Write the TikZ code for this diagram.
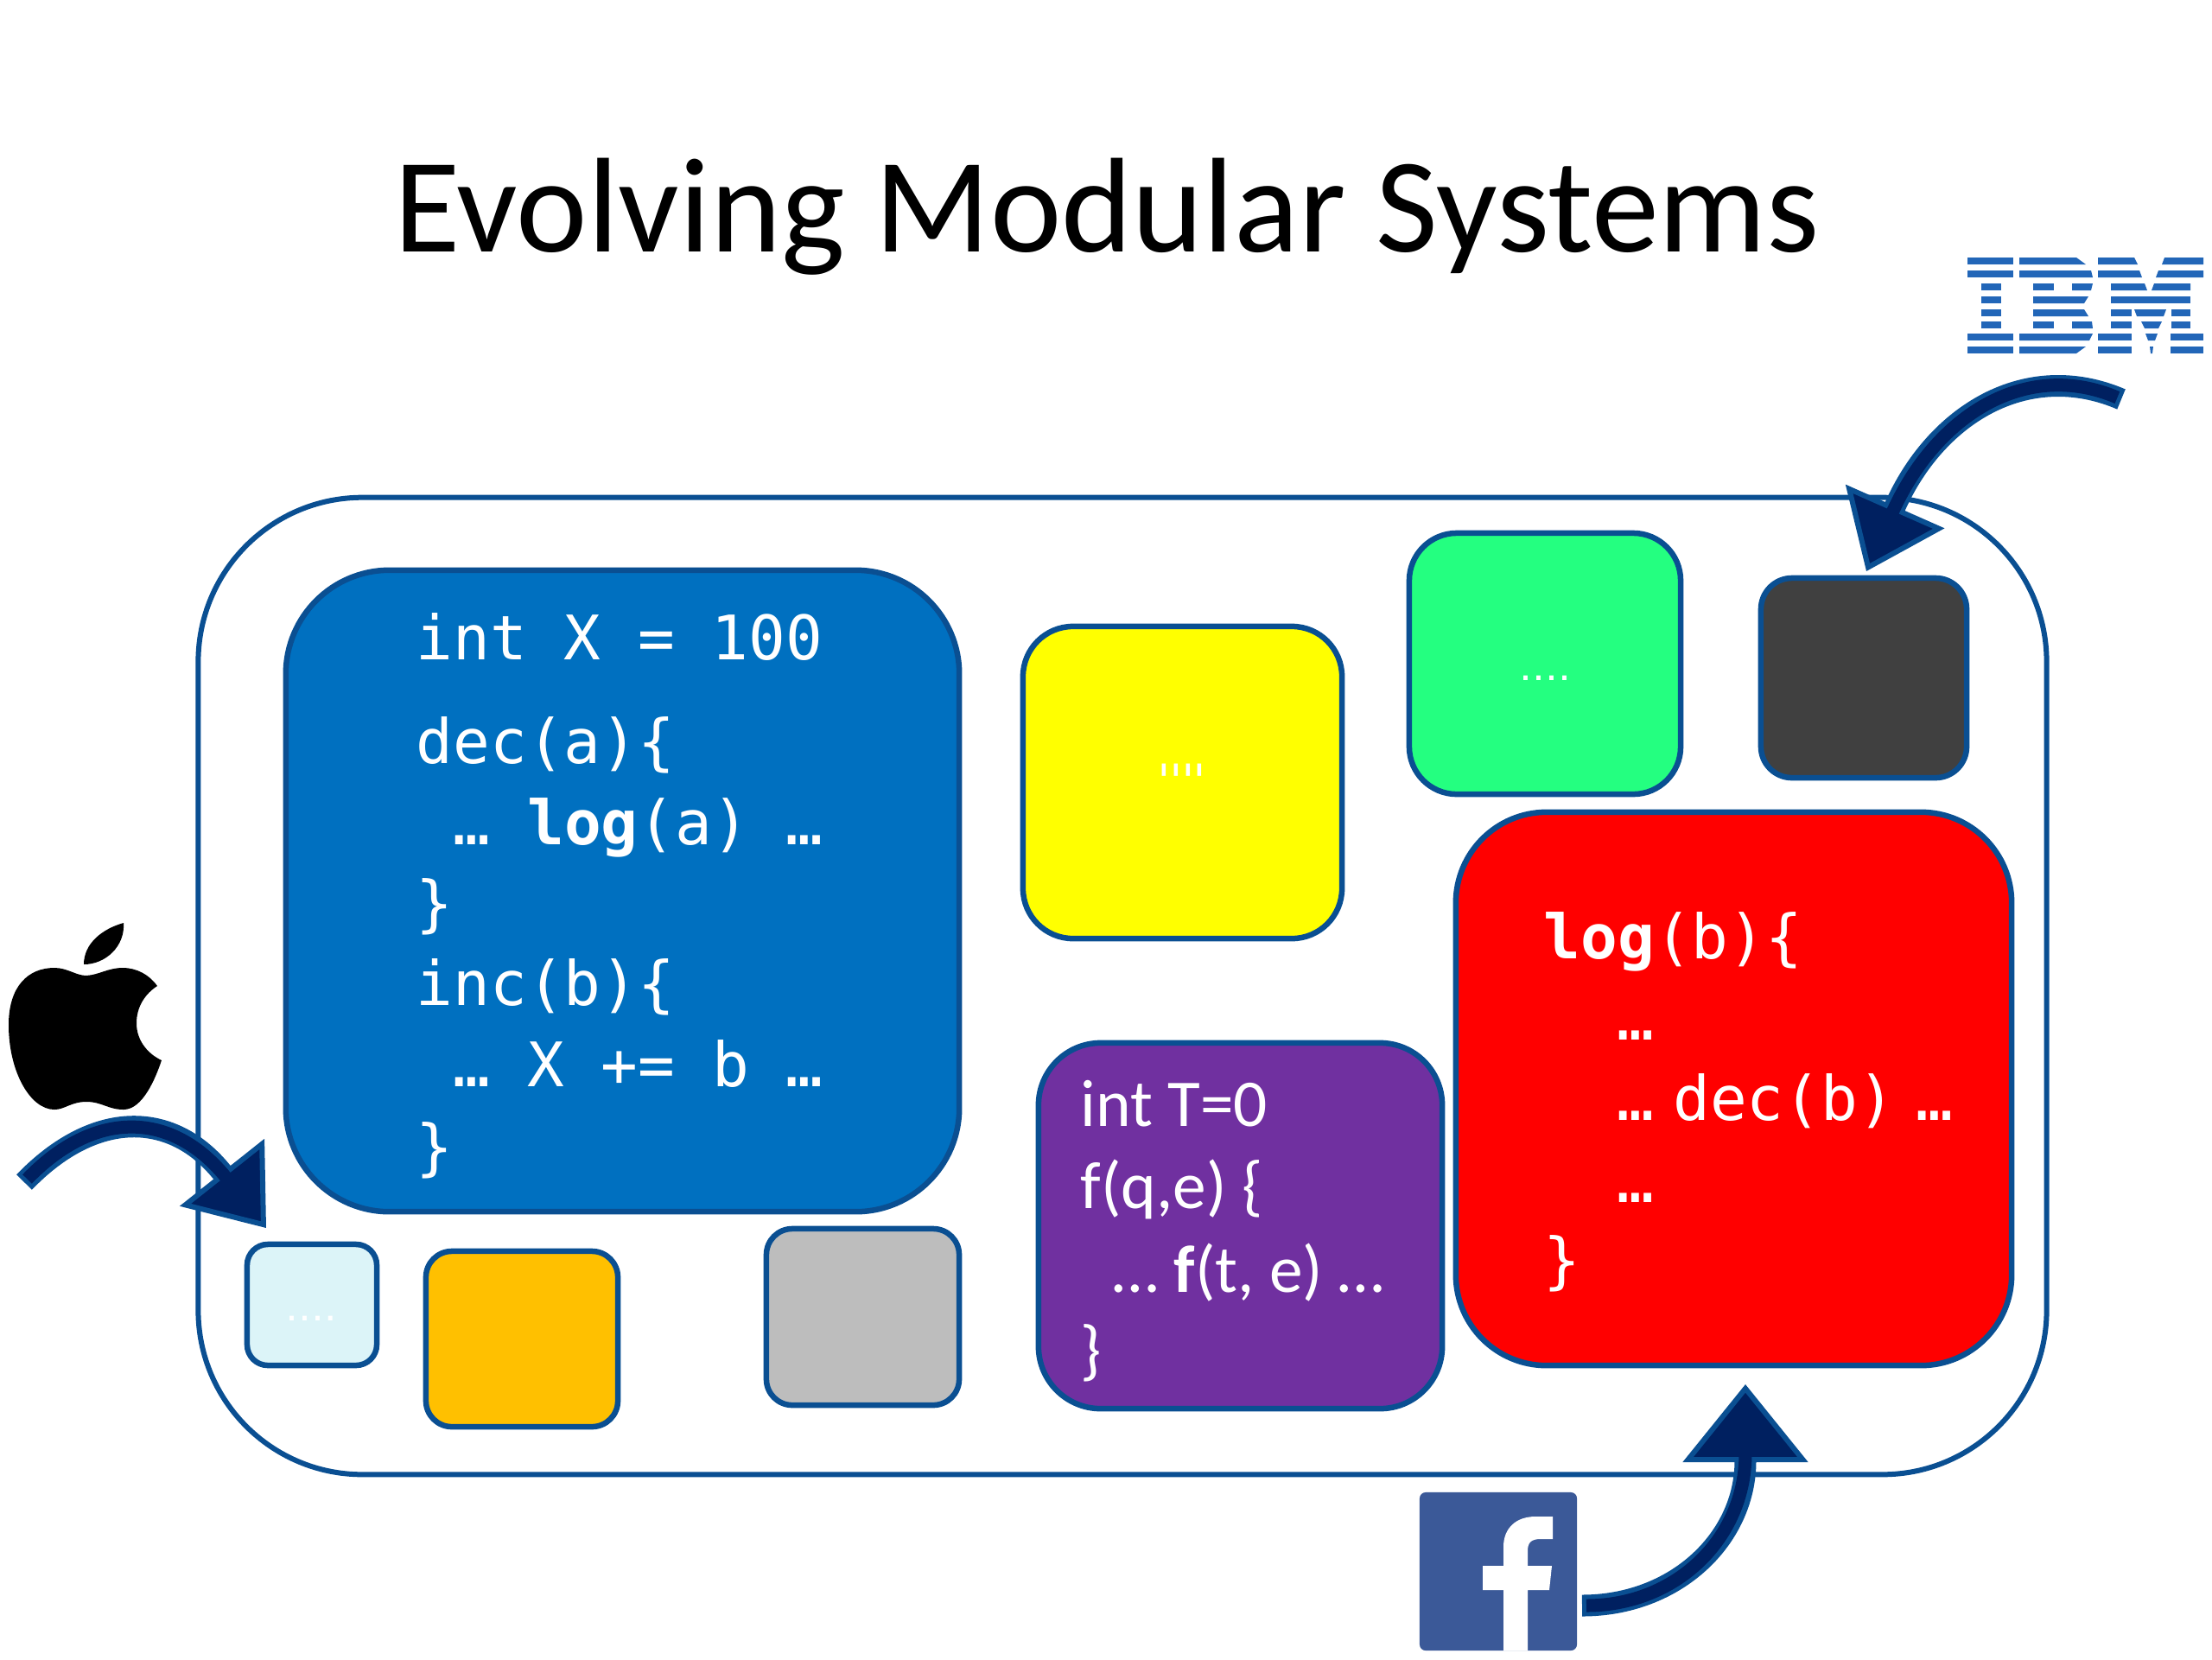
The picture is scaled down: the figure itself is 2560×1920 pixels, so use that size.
\documentclass[tikz,border=0pt]{standalone}
\usepackage{fontspec}
\usetikzlibrary{arrows.meta}
\setmainfont{Carlito}
\newfontfamily\codefont{DejaVu Sans Mono}
\definecolor{edgeblue}{HTML}{0A4F92}
\definecolor{navyfill}{HTML}{002060}
\definecolor{blockblue}{HTML}{0070C0}
\definecolor{blockyellow}{HTML}{FFFF00}
\definecolor{blockgreen}{HTML}{24FF80}
\definecolor{blockdark}{HTML}{404040}
\definecolor{blockred}{HTML}{FF0000}
\definecolor{blockpurple}{HTML}{7030A0}
\definecolor{blocklight}{HTML}{DCF4F8}
\definecolor{blockorange}{HTML}{FFC000}
\definecolor{blockgray}{HTML}{BDBDBD}
\definecolor{ibmblue}{HTML}{2266B8}
\definecolor{fbblue}{HTML}{3B5998}
\newcommand{\tightdots}{.\hspace{-0.03cm}.\hspace{-0.03cm}.\hspace{-0.03cm}.}
\tikzset{
  block/.style={draw=edgeblue,line width=0.065cm,inner sep=0pt},
  code/.style={text=white,anchor=base west,inner sep=0pt,font=\codefont\fontsize{20.2pt}{24pt}\selectfont},
  prose/.style={text=white,anchor=base west,inner sep=0pt,font=\fontsize{22pt}{26pt}\selectfont},
  dots/.style={text=white,inner sep=0pt,font=\codefont\bfseries\fontsize{8.5pt}{10pt}\selectfont},
  shaftouter/.style={draw=edgeblue,line width=0.25cm},
  shaftinner/.style={draw=navyfill,line width=0.15cm,shorten <=0.05cm},
}
\begin{document}
\begin{tikzpicture}[x=0.01cm,y=-0.01cm]
\useasboundingbox (0,0) rectangle (2560,1920);
% title
\node[anchor=base,inner sep=0pt,font=\fontsize{44.4pt}{53pt}\selectfont] (title) at (1281,291) {Evolving Modular Systems};
% outer box
\node[draw=edgeblue,line width=0.06cm,rounded corners=1.9cm,minimum width=21.38cm,minimum height=11.3cm,inner sep=0pt] (system) at (1299,1141) {};
% blocks
\node[block,fill=blockblue,rounded corners=1.2cm,minimum width=7.79cm,minimum height=7.42cm] (blue) at (720.5,1031) {};
\node[block,fill=blockyellow,rounded corners=0.58cm,minimum width=3.69cm,minimum height=3.61cm] (yellow) at (1368.5,905.5) {};
\node[block,fill=blockgreen,rounded corners=0.55cm,minimum width=3.14cm,minimum height=3.02cm] (green) at (1788,768) {};
\node[block,fill=blockdark,rounded corners=0.36cm,minimum width=2.38cm,minimum height=2.31cm] (dark) at (2157,784.5) {};
\node[block,fill=blockred,rounded corners=1.05cm,minimum width=6.43cm,minimum height=6.4cm] (red) at (2006.5,1260) {};
\node[block,fill=blockpurple,rounded corners=0.72cm,minimum width=4.67cm,minimum height=4.23cm] (purple) at (1435.5,1418.5) {};
\node[block,fill=blocklight,rounded corners=0.24cm,minimum width=1.5cm,minimum height=1.4cm] (light) at (361,1510) {};
\node[block,fill=blockorange,rounded corners=0.3cm,minimum width=2.22cm,minimum height=2.03cm] (orange) at (604,1549.5) {};
\node[block,fill=blockgray,rounded corners=0.3cm,minimum width=2.23cm,minimum height=2.04cm] (gray) at (998.5,1524) {};
% blue text
\node[code] (b1) at (481,763) {int X = 100};
\node[code] (b2) at (481,883) {dec(a)\{};
\node[code] (b3) at (524,977) {… \textbf{log}(a) …};
\node[code] (b4) at (481,1070) {\}};
\node[code] (b5) at (481,1163) {inc(b)\{};
\node[code] (b6) at (524,1257) {… X += b …};
\node[code] (b7) at (481,1352) {\}};
% red text
\node[code] (r1) at (1786,1109) {\textbf{log}(b)\{};
\node[code] (r2) at (1871,1203) {…};
\node[code] (r3) at (1871,1296) {…\hspace{0.22cm}dec(b)\hspace{0.24cm}…};
\node[code] (r4) at (1871,1391) {…};
\node[code] (r5) at (1786,1483) {\}};
% purple text
\node[prose] (p1) at (1250,1303) {int T=0};
\node[prose] (p2) at (1250,1398) {f(q,e) \{};
\node[prose] (p3) at (1287,1495) {… \textbf{f}(t, e) …};
\node[prose] (p4) at (1250,1588) {\}};
% small labels
\node[dots] (d1) at (1788,785) {\tightdots};
\node[dots] (d2) at (360,1526) {\tightdots};
\node[dots,font=\codefont\itshape\fontsize{15pt}{18pt}\selectfont] (d3) at (1368,903) {\symbol{39}\hspace{-0.18cm}\symbol{39}\hspace{-0.18cm}\symbol{39}\hspace{-0.18cm}\symbol{39}};
% IBM logo
\foreach \yy/\a/\b/\c/\d in {
 298/2277/2330/2277/2330, 298/2337/2403/2337/2414, 298/2428/2470/2428/2474, 298/2505/2550/2502/2550,
 313/2277/2330/2277/2330, 313/2337/2420/2337/2422, 313/2428/2476/2428/2479, 313/2498/2550/2495/2550,
 328/2293/2316/2293/2316, 328/2353/2377/2353/2377, 328/2398/2422/2398/2420, 328/2443/2482/2443/2485, 328/2493/2535/2490/2535,
 343/2293/2316/2293/2316, 343/2353/2417/2353/2412, 343/2443/2535/2443/2535,
 358/2293/2316/2293/2316, 358/2353/2412/2353/2417, 358/2443/2467/2443/2467, 358/2470/2507/2473/2504, 358/2513/2535/2513/2535,
 372/2293/2316/2293/2316, 372/2353/2377/2353/2377, 372/2398/2421/2398/2422, 372/2443/2467/2443/2467, 372/2478/2502/2482/2498, 372/2513/2535/2513/2535,
 386/2277/2330/2277/2330, 386/2337/2422/2337/2418, 386/2428/2467/2428/2467, 386/2483/2497/2486/2494, 386/2512/2550/2512/2550,
 401/2277/2330/2277/2330, 401/2337/2414/2337/2403, 401/2428/2467/2428/2467, 401/2488/2492/2489/2491, 401/2512/2550/2512/2550}
 \fill[ibmblue] (\a,\yy) -- (\b,\yy) -- (\d,\yy+8) -- (\c,\yy+8) -- cycle;
% Apple logo
\fill[black] (143,1068) .. controls (118,1075) and (97,1092) .. (97,1116) .. controls (122,1116) and (145,1095) .. (143,1068) -- cycle;
\fill[black] (100,1129) .. controls (115,1128) and (125,1120) .. (142,1120) .. controls (158,1120) and (173,1128) .. (182,1141)
  .. controls (168,1150) and (158,1165) .. (158,1184) .. controls (158,1205) and (172,1220) .. (187,1227)
  .. controls (180,1248) and (165,1284) .. (143,1284) .. controls (125,1284) and (118,1275) .. (100,1275)
  .. controls (82,1275) and (75,1284) .. (63,1284) .. controls (35,1284) and (10,1240) .. (10,1186)
  .. controls (10,1142) and (32,1120) .. (63,1120) .. controls (78,1120) and (88,1129) .. (100,1129) -- cycle;
% Facebook logo
\node[fill=fbblue,rounded corners=0.07cm,minimum width=1.82cm,minimum height=1.83cm,inner sep=0pt] (fb) at (1734,1818.5) {};
\fill[white] (1740,1910) -- (1740,1840) -- (1716,1840) -- (1716,1812) -- (1740,1812) -- (1740,1790)
  .. controls (1740,1768) and (1755,1755) .. (1777,1755) -- (1797,1755) -- (1797,1781) -- (1783,1781)
  .. controls (1772,1781) and (1768,1785) .. (1768,1795) -- (1768,1812) -- (1796,1812) -- (1793,1840) -- (1768,1840) -- (1768,1910) -- cycle;
% arrow ends
\coordinate (ibmtail) at (2455,462);
\coordinate (ibmtip) at (2160,661);
\coordinate (appletail) at (28,1368);
\coordinate (appletip) at (308,1421);
\coordinate (fbtail) at (1831,1858);
\coordinate (fbtip) at (2020,1602);
\tikzset{ibmhead/.style={-{Triangle[length=0.82cm,width=1.24cm,line width=0.06cm,color=edgeblue,fill=navyfill]}}}
% IBM arrow
\draw[shaftouter,ibmhead] (ibmtail) .. controls (2345,415) and (2240,480) .. (ibmtip);
\draw[shaftinner,shorten >=0.72cm] (ibmtail) .. controls (2345,415) and (2240,480) .. (ibmtip);
% Apple arrow
\draw[shaftouter,ibmhead] (appletail) .. controls (110,1283) and (200,1285) .. (appletip);
\draw[shaftinner,shorten >=0.72cm] (appletail) .. controls (110,1283) and (200,1285) .. (appletip);
% Facebook arrow
\draw[shaftouter,-{Triangle[length=0.9cm,width=1.44cm,line width=0.06cm,color=edgeblue,fill=navyfill]}] (fbtail) .. controls (1940,1858) and (2020,1780) .. (fbtip);
\draw[shaftinner,shorten >=0.8cm] (fbtail) .. controls (1940,1858) and (2020,1780) .. (fbtip);
\end{tikzpicture}
\end{document}
